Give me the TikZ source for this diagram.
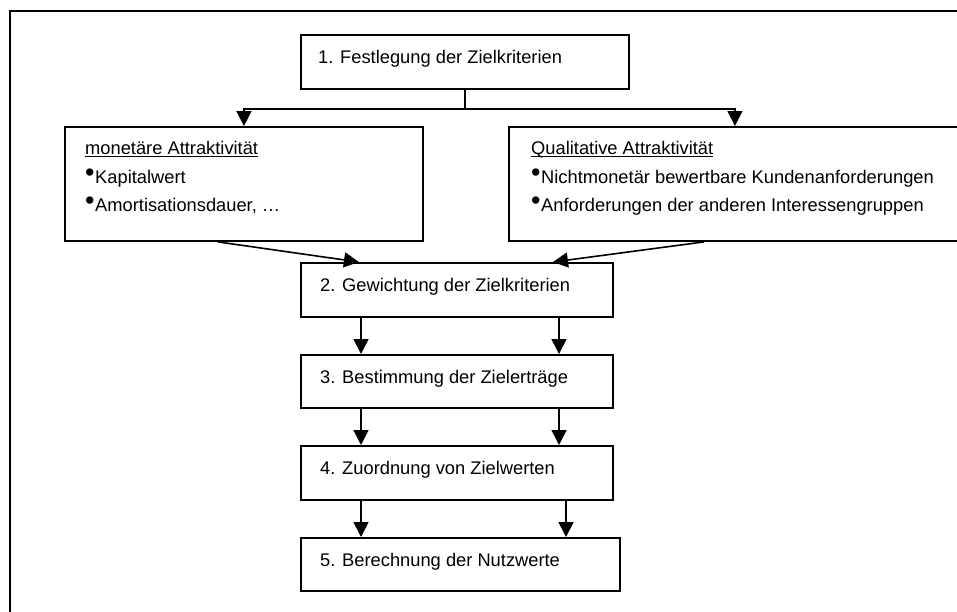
\documentclass[tikz,border=0pt]{standalone}
\usepackage{fontspec}
\setmainfont{Liberation Sans}
\usetikzlibrary{arrows.meta,calc}
% raised bullet used in front of list items
\newcommand{\bul}{\makebox[10pt][l]{\raisebox{2.5pt}{\fontsize{27}{27}\selectfont •}}}
% thicker underline for the box headings
\newcommand{\uline}[1]{\setbox0\hbox{#1}\rlap{\rule[-2.6pt]{\wd0}{1.3pt}}\box0}

\begin{document}
\begin{tikzpicture}[x=1pt,y=-1pt,
  box/.style={draw, line width=1.9pt, inner sep=0pt, anchor=north west},
  txt/.style={inner sep=0pt, anchor=base west, font=\fontsize{18.3}{22}\selectfont},
  link/.style={line width=1.6pt},
  arr/.style={link, -{Triangle[width=15pt,length=15pt]}}]
\clip (0,0) rectangle (957,611);
\fill[white] (0,0) rectangle (957,611);

% outer frame (open to the right and bottom)
\draw[line width=2.3pt] (10,640) -- (10,11) -- (980,11);

% boxes
\node[box, minimum width=328pt, minimum height=54pt] (s1) at (300,34) {};
\node[box, minimum width=358pt, minimum height=114pt] (mon) at (64,126) {};
\node[box, minimum width=452pt, minimum height=114pt] (qual) at (508,126) {};
\node[box, minimum width=312pt, minimum height=54pt] (s2) at (300,262) {};
\node[box, minimum width=312pt, minimum height=53pt] (s3) at (300,354) {};
\node[box, minimum width=312pt, minimum height=54pt] (s4) at (300,445) {};
\node[box, minimum width=319pt, minimum height=53pt] (s5) at (300,537) {};

% texts
\node[txt] (t1) at (318,63) {1. Festlegung der Zielkriterien};
\node[txt] (t2) at (320,291) {2. Gewichtung der Zielkriterien};
\node[txt] (t3) at (320,383) {3. Bestimmung der Zielerträge};
\node[txt] (t4) at (320,474) {4. Zuordnung von Zielwerten};
\node[txt] (t5) at (320,566) {5. Berechnung der Nutzwerte};

\node[txt] (m1) at (85,154.5) {\uline{monetäre Attraktivität}};
\node[txt] (m2) at (85,183.5) {\bul Kapitalwert};
\node[txt] (m3) at (85,211.5) {\bul Amortisationsdauer, …};

\node[txt] (q1) at (531,154.5) {\uline{Qualitative Attraktivität}};
\node[txt] (q2) at (531,183.5) {\bul Nichtmonetär bewertbare Kundenanforderungen};
\node[txt] (q3) at (531,211.5) {\bul Anforderungen der anderen Interessengruppen};

% connectors
\coordinate (j) at ($(s1.south)+(0,19)$);
\draw[link] (s1.south) -- (j);
\draw[arr] (j) -| (mon.north);
\draw[arr] (j) -| (qual.north);
\draw[arr] ($(mon.south)+(-26,0)$) -- ($(s2.north)+(-98,0)$);
\draw[arr] ($(qual.south)+(-31,0)$) -- ($(s2.north)+(96,0)$);

\draw[arr] ($(s2.south west)+(61,0)$) -- ($(s3.north west)+(61,0)$);
\draw[arr] ($(s2.south west)+(259,0)$) -- ($(s3.north west)+(259,0)$);
\draw[arr] ($(s3.south west)+(61,0)$) -- ($(s4.north west)+(61,0)$);
\draw[arr] ($(s3.south west)+(259,0)$) -- ($(s4.north west)+(259,0)$);
\draw[arr] ($(s4.south west)+(61,0)$) -- ($(s5.north west)+(61,0)$);
\draw[arr] ($(s4.south west)+(266,0)$) -- ($(s5.north west)+(266,0)$);
\end{tikzpicture}
\end{document}
